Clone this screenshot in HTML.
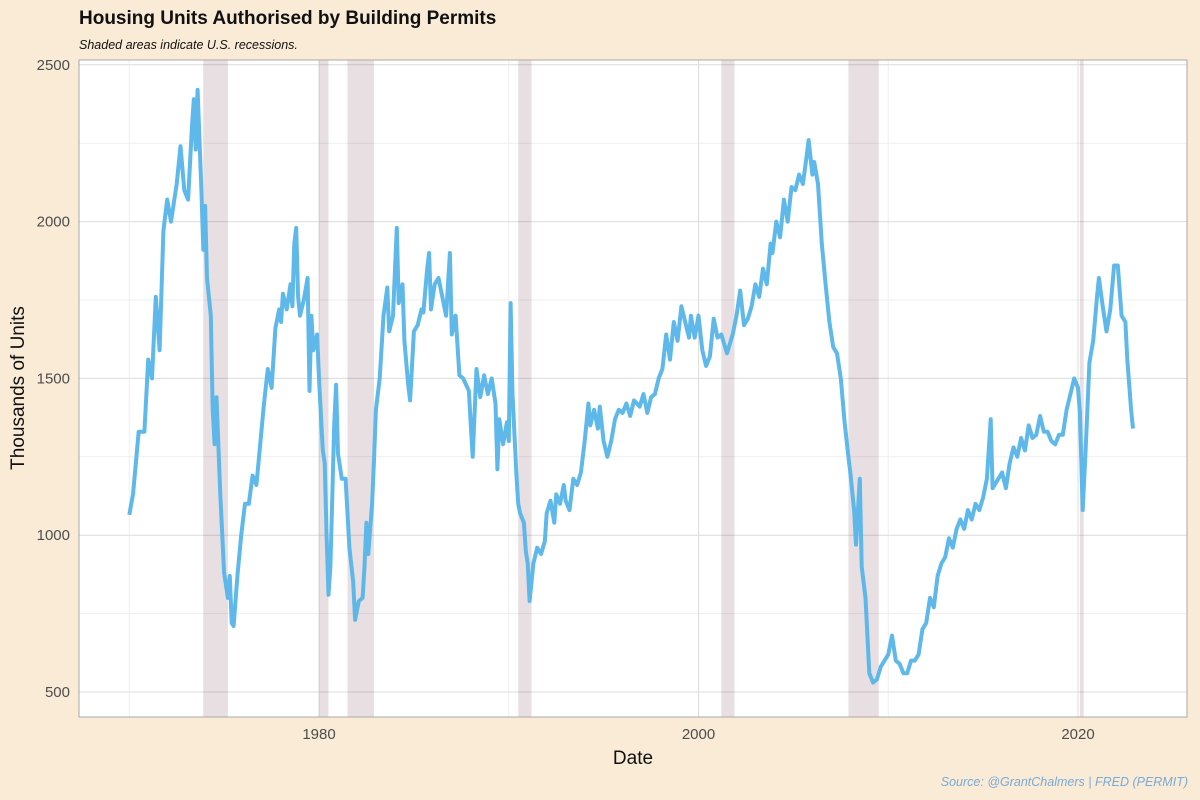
<!DOCTYPE html>
<html><head><meta charset="utf-8"><style>
body{margin:0;background:#FAEBD7;}
svg{display:block;font-family:"Liberation Sans",sans-serif;}
</style></head><body>
<svg id="c" width="1200" height="800">
<rect width="1200" height="800" fill="#FAEBD7"/>
<text x="79" y="24" font-size="19" font-weight="bold" fill="#111">Housing Units Authorised by Building Permits</text>
<text x="79" y="49" font-size="12.5" font-style="italic" fill="#111">Shaded areas indicate U.S. recessions.</text>
<text transform="translate(24,388) rotate(-90)" text-anchor="middle" font-size="19" fill="#111">Thousands of Units</text>
<text x="633" y="764" text-anchor="middle" font-size="19" fill="#111">Date</text>
<text x="1188" y="786" text-anchor="end" font-size="12.5" font-style="italic" fill="#7aaad6">Source: @GrantChalmers | FRED (PERMIT)</text>
<g id="plot"></g>
</svg>
<script>
const dates=[1970.0,1970.2,1970.5,1970.8,1971.0,1971.2,1971.4,1971.6,1971.8,1972.0,1972.2,1972.5,1972.7,1972.9,1973.1,1973.3,1973.4,1973.5,1973.6,1973.8,1973.9,1974.0,1974.1,1974.3,1974.4,1974.5,1974.6,1974.8,1975.0,1975.2,1975.3,1975.4,1975.5,1975.7,1975.9,1976.1,1976.3,1976.5,1976.7,1976.9,1977.1,1977.3,1977.5,1977.7,1977.9,1978.0,1978.1,1978.3,1978.5,1978.6,1978.7,1978.8,1978.9,1979.0,1979.2,1979.4,1979.5,1979.6,1979.7,1979.9,1980.0,1980.2,1980.3,1980.4,1980.5,1980.6,1980.8,1980.9,1981.0,1981.2,1981.4,1981.6,1981.8,1981.9,1982.1,1982.3,1982.4,1982.5,1982.6,1982.8,1982.9,1983.0,1983.2,1983.4,1983.6,1983.7,1983.9,1984.1,1984.2,1984.4,1984.5,1984.7,1984.8,1985.0,1985.2,1985.4,1985.5,1985.7,1985.8,1985.9,1986.1,1986.3,1986.5,1986.7,1986.9,1987.0,1987.2,1987.4,1987.6,1987.9,1988.0,1988.1,1988.3,1988.5,1988.7,1988.9,1989.1,1989.3,1989.4,1989.5,1989.7,1989.9,1990.0,1990.1,1990.2,1990.4,1990.5,1990.6,1990.8,1990.9,1991.0,1991.1,1991.3,1991.5,1991.7,1991.9,1992.0,1992.2,1992.4,1992.5,1992.7,1992.9,1993.0,1993.2,1993.4,1993.6,1993.8,1994.0,1994.2,1994.3,1994.5,1994.7,1994.8,1995.0,1995.2,1995.4,1995.6,1995.8,1996.0,1996.2,1996.4,1996.6,1996.9,1997.1,1997.3,1997.5,1997.7,1997.9,1998.1,1998.3,1998.5,1998.7,1998.9,1999.1,1999.3,1999.5,1999.6,1999.8,2000.0,2000.2,2000.4,2000.6,2000.8,2001.0,2001.2,2001.5,2001.8,2002.0,2002.2,2002.4,2002.6,2002.8,2003.0,2003.2,2003.4,2003.6,2003.8,2003.9,2004.1,2004.3,2004.5,2004.7,2004.9,2005.1,2005.3,2005.5,2005.7,2005.8,2006.0,2006.1,2006.3,2006.5,2006.7,2006.9,2007.1,2007.3,2007.5,2007.7,2007.9,2008.0,2008.2,2008.3,2008.5,2008.6,2008.8,2009.0,2009.2,2009.4,2009.6,2009.8,2010.0,2010.2,2010.4,2010.6,2010.8,2011.0,2011.2,2011.4,2011.6,2011.8,2012.0,2012.2,2012.4,2012.6,2012.8,2013.0,2013.2,2013.4,2013.6,2013.8,2014.0,2014.2,2014.4,2014.6,2014.8,2015.0,2015.2,2015.4,2015.5,2015.8,2016.0,2016.2,2016.4,2016.6,2016.8,2017.0,2017.2,2017.4,2017.6,2017.8,2018.0,2018.2,2018.4,2018.6,2018.8,2019.0,2019.2,2019.4,2019.6,2019.8,2020.0,2020.1,2020.25,2020.4,2020.6,2020.8,2021.0,2021.1,2021.3,2021.5,2021.7,2021.9,2022.1,2022.3,2022.5,2022.6,2022.8,2022.9];
const permits=[1065,1130,1330,1330,1560,1500,1760,1590,1970,2070,2000,2120,2240,2100,2070,2300,2390,2230,2420,2100,1910,2050,1820,1700,1400,1290,1440,1130,880,800,870,720,710,870,1000,1100,1100,1190,1160,1290,1420,1530,1470,1660,1720,1680,1770,1720,1800,1730,1930,1980,1760,1700,1750,1820,1460,1700,1590,1640,1500,1270,1230,1000,810,900,1350,1480,1260,1180,1180,960,850,730,790,800,900,1040,940,1100,1240,1400,1500,1700,1790,1650,1700,1980,1740,1800,1620,1480,1430,1650,1670,1720,1710,1850,1900,1720,1800,1820,1760,1700,1900,1640,1700,1510,1500,1460,1350,1250,1530,1440,1510,1450,1500,1420,1210,1370,1290,1360,1300,1740,1450,1200,1100,1070,1040,950,910,790,910,960,940,980,1070,1110,1040,1130,1100,1160,1110,1080,1180,1160,1200,1300,1420,1350,1400,1340,1410,1300,1250,1300,1370,1400,1390,1420,1380,1430,1410,1450,1390,1440,1450,1500,1530,1640,1560,1680,1620,1730,1680,1630,1700,1630,1700,1590,1540,1570,1690,1630,1640,1580,1640,1700,1780,1670,1690,1730,1800,1760,1850,1800,1930,1900,2000,1950,2070,2000,2110,2100,2150,2120,2210,2260,2150,2190,2120,1930,1800,1680,1600,1580,1500,1360,1250,1200,1080,970,1180,900,800,560,530,540,580,600,620,680,600,590,560,560,600,600,620,700,720,800,770,870,910,930,990,960,1020,1050,1020,1080,1050,1100,1080,1120,1180,1370,1150,1180,1200,1150,1230,1280,1250,1310,1270,1350,1310,1320,1380,1330,1330,1300,1290,1320,1320,1400,1450,1500,1470,1390,1080,1270,1550,1620,1760,1820,1730,1650,1720,1860,1860,1700,1680,1560,1400,1340];
const recStart=[1973.9,1980.0,1981.5,1990.5,2001.2,2007.9,2020.1];
const recEnd=[1975.2,1980.5,1982.9,1991.2,2001.9,2009.5,2020.3];
const yTicks=[500,1000,1500,2000,2500];
const yMinor=[750,1250,1750,2250];
const xTicks=[1980,2000,2020];
const xMinor=[1970,1990,2010];
const NS='http://www.w3.org/2000/svg';
const L=79,R=1187,T=60,B=717;
function xs(v){return 319+(v-1980)*18.975;}
function ys(v){return 692-(v-500)*0.3136;}
const g=document.getElementById('plot');
function mk(t,a){const e=document.createElementNS(NS,t);for(const k in a)e.setAttribute(k,a[k]);g.appendChild(e);return e;}
let bg=mk('rect',{x:L,y:T,width:R-L,height:B-T,fill:'#fff'});


yMinor.forEach(v=>{let l=mk('line',{x1:L,x2:R,y1:ys(v),y2:ys(v),stroke:'#efefef','stroke-width':1});

});
xMinor.forEach(v=>{let l=mk('line',{x1:xs(v),x2:xs(v),y1:T,y2:B,stroke:'#efefef','stroke-width':1});

});
yTicks.forEach(v=>{let l=mk('line',{x1:L,x2:R,y1:ys(v),y2:ys(v),stroke:'#dcdcdc','stroke-width':1});


let t=mk('text',{x:70,y:ys(v)+5,'text-anchor':'end','font-size':15,fill:'#4d4d4d'});t.textContent=v;

});
xTicks.forEach(v=>{let l=mk('line',{x1:xs(v),x2:xs(v),y1:T,y2:B,stroke:'#dcdcdc','stroke-width':1});


let t=mk('text',{x:xs(v),y:739,'text-anchor':'middle','font-size':15,fill:'#4d4d4d'});t.textContent=v;

});
recStart.forEach((s,i)=>{let r=mk('rect',{x:xs(s),y:T,width:xs(recEnd[i])-xs(s),height:B-T,fill:'#5a1a3a','fill-opacity':0.14});

});
let d=dates.map((x,i)=>(i?'L':'M')+xs(x).toFixed(1)+','+ys(permits[i]).toFixed(1)).join('');
let p=mk('path',{d:d,fill:'none',stroke:'#56b4e9','stroke-width':4,'stroke-linejoin':'round','stroke-opacity':0.95});


let bd=mk('rect',{x:L,y:T,width:R-L,height:B-T,fill:'none',stroke:'#aaa','stroke-width':1});


</script>
</body></html>
